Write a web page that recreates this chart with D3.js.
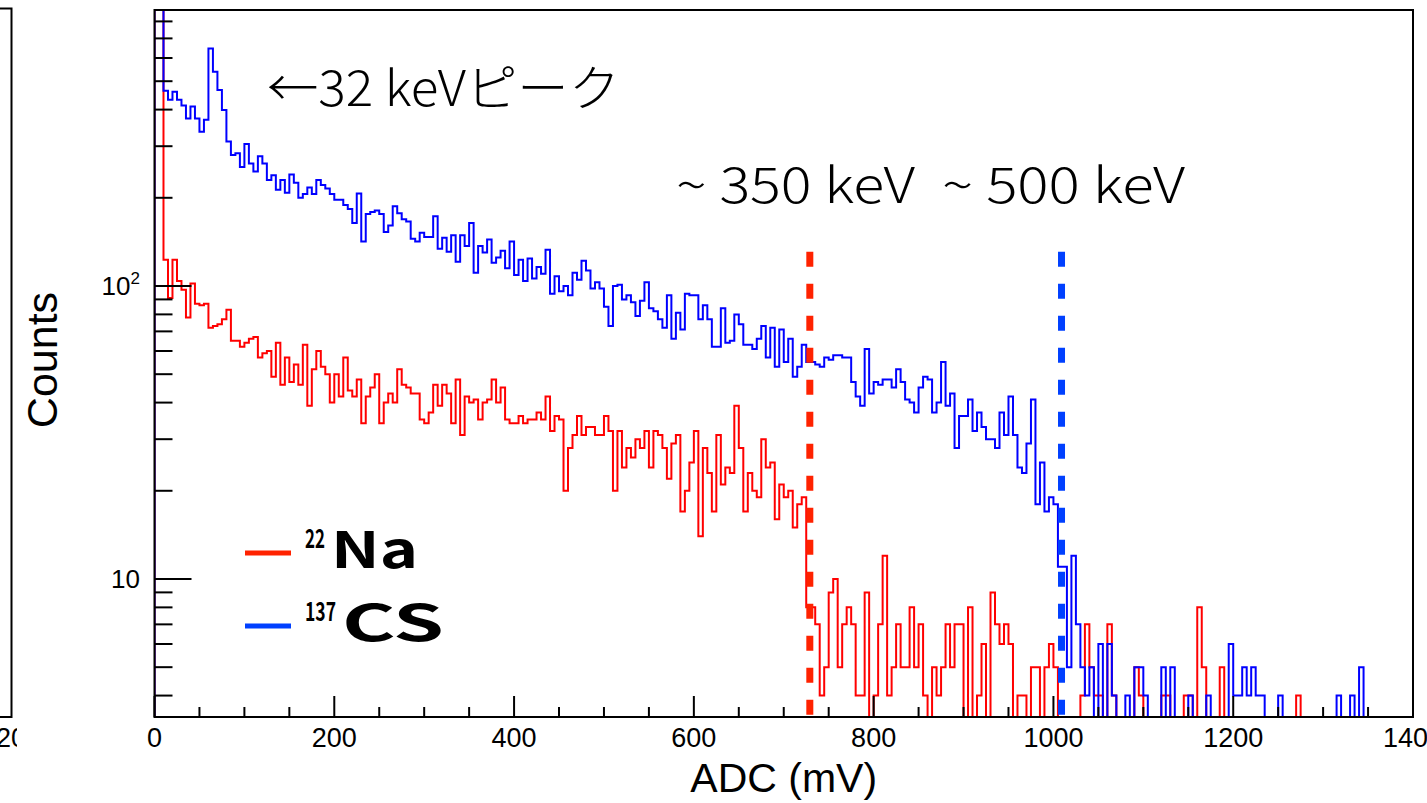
<!DOCTYPE html>
<html><head><meta charset="utf-8">
<script src="https://cdn.jsdelivr.net/npm/d3@7"></script>
<style>
html,body{margin:0;padding:0;background:#fff;overflow:hidden}
</style></head>
<body>
<svg id="chart" width="1427" height="803"></svg>
<script>
// ---- data ----
const binWidth = 5; // mV per bin, 280 bins from 0 to 1400 mV
const na22Counts = [
2000,2000,123,91,123,104,97,78,102,87,86,87,72,73,74,77,83,65,65,62,
64,66,67,57,59,60,49,64,46,57,47,54,46,63,39,52,60,53,50,40,
50,42,57,44,42,48,34,42,45,50,34,40,43,40,52,46,45,43,43,35,
34,37,46,39,46,43,34,48,31,42,40,41,35,40,41,48,40,45,35,34,
34,36,34,35,35,37,35,42,32,36,35,20,28,31,36,31,33,33,31,31,
36,32,20,32,24,28,26,30,28,32,24,32,31,28,22,29,31,17,20,25,
32,14,28,23,17,31,21,24,23,39,28,17,23,20,19,30,24,25,16,21,
19,20,15,18,19,8,8,7,4,5,9,10,5,7,8,7,4,4,9,0,
4,7,12,4,5,7,5,5,8,5,7,4,0,5,4,5,7,5,7,7,
0,8,0,4,6,0,9,7,6,7,6,0,4,4,0,5,5,0,5,6,
5,0,0,0,0,0,4,7,5,4,4,0,7,4,0,0,0,0,5,4,
0,0,0,0,4,4,0,0,0,4,4,0,8,5,0,0,0,5,0,0,
0,0,0,0,0,0,0,0,0,0,0,0,0,0,4,0,0,0,0,0,
0,0,0,0,0,0,0,0,0,0,0,0,0,0,0,0,0,0,0,0
];
const cs137Counts = [
2000,2000,464,432,460,432,413,373,410,373,336,369,647,539,467,399,311,280,284,255,
305,262,246,277,262,230,239,213,230,208,240,225,200,206,217,206,230,221,215,206,
197,197,189,183,164,207,142,176,179,181,176,153,161,187,177,169,166,145,142,152,
147,147,173,134,146,131,149,121,149,137,164,111,137,130,144,120,125,132,115,142,
109,123,104,124,106,116,110,133,94,108,96,100,93,111,105,122,113,98,103,98,
85,73,100,101,90,93,88,79,89,103,84,82,77,72,93,66,81,71,94,93,
93,77,86,77,62,62,84,64,65,80,74,63,63,61,66,73,57,72,53,71,
55,66,49,53,63,55,55,54,53,57,56,58,58,57,57,47,42,39,61,43,
47,46,48,48,45,52,47,41,40,37,45,49,48,37,40,55,39,43,28,36,
36,41,32,37,33,30,30,28,37,31,42,31,24,23,29,41,18,25,17,19,
18,11,11,5,12,7,5,4,5,0,6,0,6,4,0,0,4,0,5,5,
4,0,0,0,5,0,5,0,0,0,4,0,0,0,4,0,0,0,0,6,
4,4,5,4,5,4,4,0,0,0,4,0,0,0,0,0,0,0,0,0,
0,0,0,4,0,0,4,0,5,0,0,0,0,0,0,0,0,0,0,0
];
const xTickValues = [0,200,400,600,800,1000,1200,1400];
const xTickLabels = ["0","200","400","600","800","1000","1200","1400"];
const yMajorValues = [10,100];
const yMinorValues = [4,5,6,7,8,9,20,30,40,50,60,70,80,90,200,300,400,500,600,700,800];
const markerValues = [729, 1009];         // ~350 keV (22Na), ~500 keV (137Cs) edges in mV
const markerTopCount = 131;
const seriesSup = ["22","137"], seriesMain = ["Na","CS"];

// ---- layout ----
const svg = d3.select("#chart");
const L = 154.5, R = 1413, T = 10, B = 717;
const x = d3.scaleLinear().domain([0,1400]).range([L,R]);
const yMin = 3.38, yMax = 875;
const y = d3.scaleLog().domain([yMin,yMax]).range([B,T]);
const yc = v => y(Math.max(yMin, Math.min(yMax*1.5, v)));

const defs = svg.append("defs");
defs.append("clipPath").attr("id","plotClip")
  .append("rect").attr("x",L).attr("y",T).attr("width",R-L).attr("height",B-T);
defs.append("clipPath").attr("id","leftClip")
  .append("rect").attr("x",0).attr("y",0).attr("width",17).attr("height",803);

const font = "Liberation Sans, Arial, Helvetica, sans-serif";

// left neighbouring panel fragment
const lp = svg.append("g");
lp.append("path").attr("d",`M0,8.5H11.5V717H0`).attr("fill","none").attr("stroke","#000").attr("stroke-width",2);
lp.append("text").attr("x",-4).attr("y",747).attr("clip-path","url(#leftClip)")
  .attr("font-family",font).attr("font-size",27).text("20");

// histograms
function histPath(counts){
  const pts = counts.map((c,i)=>[i*binWidth, c]);
  pts.push([counts.length*binWidth, counts[counts.length-1]]);
  const line = d3.line().x(d=>x(d[0])).y(d=>yc(d[1])).curve(d3.curveStepAfter);
  return `M${x(0)},${B}L` + line(pts).slice(1) + `L${x(counts.length*binWidth)},${B}`;
}
const plot = svg.append("g").attr("clip-path","url(#plotClip)");
plot.append("path").attr("d",histPath(na22Counts)).attr("fill","none").attr("stroke","#ff0000").attr("stroke-width",2);
plot.append("path").attr("d",histPath(cs137Counts)).attr("fill","none").attr("stroke","#0000ff").attr("stroke-width",2);

// dashed markers
const markerColors = ["#ff2200","#0040ff"];
markerValues.forEach((m,i)=>{
  svg.append("line").attr("x1",x(m)).attr("x2",x(m)).attr("y1",y(markerTopCount)).attr("y2",B-1)
    .attr("stroke",markerColors[i]).attr("stroke-width",7).attr("stroke-dasharray","15 17");
});

// frame
svg.append("rect").attr("x",L).attr("y",T).attr("width",R-L).attr("height",B-T)
  .attr("fill","none").attr("stroke","#000").attr("stroke-width",2);

// ticks
const ax = svg.append("g").attr("stroke","#000").attr("stroke-width",2);
d3.range(0,1401,50).forEach(v=>{
  const major = v%200===0;
  ax.append("line").attr("x1",x(v)).attr("x2",x(v)).attr("y1",B).attr("y2",B-(major?21:10));
});
yMajorValues.forEach(v=>ax.append("line").attr("x1",L).attr("x2",L+37).attr("y1",y(v)).attr("y2",y(v)));
yMinorValues.forEach(v=>ax.append("line").attr("x1",L).attr("x2",L+18).attr("y1",y(v)).attr("y2",y(v)));

const xl = svg.append("g").attr("font-family",font).attr("font-size",27).attr("text-anchor","middle");
xTickValues.forEach((v,i)=>xl.append("text").attr("x",x(v)).attr("y",747).text(xTickLabels[i]));

const yl = svg.append("g").attr("font-family",font).attr("font-size",26).attr("text-anchor","end");
yl.append("text").attr("x",140).attr("y",y(10)+9).text("10");
const t100 = yl.append("text").attr("x",140).attr("y",y(100)+9);
t100.append("tspan").text("10");
t100.append("tspan").attr("font-size",17).attr("dy",-11).text("2");

// axis titles
svg.append("text").attr("x",(L+R)/2).attr("y",792).attr("text-anchor","middle")
  .attr("font-family",font).attr("font-size",41).text("ADC (mV)");
svg.append("text").attr("transform","translate(57,360) rotate(-90)").attr("text-anchor","middle")
  .attr("font-family",font).attr("font-size",43).text("Counts");

// annotations
const jp = "'Noto Sans CJK JP', 'Noto Sans', sans-serif";
function ann(txt, x0, yb, w){
  svg.append("text").attr("x",x0).attr("y",yb).attr("font-family",jp).attr("font-size",49).attr("font-weight",300)
    .attr("textLength",w).attr("lengthAdjust","spacingAndGlyphs").style("white-space","pre").text(txt);
}
ann("←32 keVピーク", 267, 106, 353);
ann("~ 350 keV", 676, 203, 239);
ann("~ 500 keV", 942, 203, 243);

// legend (one text element per entry: superscript mass number + symbol)
const leg = svg.append("g");
const legY = [553, 626];
const supW = [20, 31], mainW = [87, 102];
legY.forEach((yy,i)=>{
  leg.append("line").attr("x1",245).attr("x2",291).attr("y1",yy).attr("y2",yy)
    .attr("stroke",markerColors[i]).attr("stroke-width",5);
  const t = leg.append("text").attr("x",305).attr("y",yy-5).attr("font-family",jp).attr("font-weight",700);
  t.append("tspan").attr("font-size",26).attr("textLength",supW[i]).attr("lengthAdjust","spacingAndGlyphs").text(seriesSup[i]);
  t.append("tspan").attr("dx",6).attr("dy",20).attr("font-size",50)
    .attr("textLength",mainW[i]).attr("lengthAdjust","spacingAndGlyphs").text(seriesMain[i]);
});
</script>
</body></html>
